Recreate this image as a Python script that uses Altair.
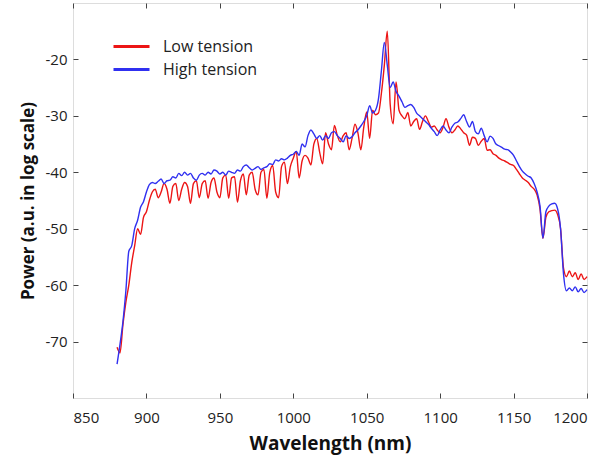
import altair as alt
import pandas as pd

wavelength = list(range(880, 1201, 2))

low_tension = [
    -71, -72, -67, -63, -60, -56, -53, -50, -51, -48,
    -47, -45, -43.5, -43, -44.5, -43.5, -42, -43, -45.5, -42.5,
    -42, -45, -43, -41.8, -42.5, -45.5, -42, -41.5, -44.5, -42,
    -41.5, -44.6, -41.8, -41, -43.5, -44.5, -41, -40.5, -44.6, -41,
    -40.8, -45.3, -41.5, -40.3, -44, -40.5, -40, -43, -44, -40,
    -39.5, -44.6, -40, -38.8, -43.5, -44.5, -39, -38.2, -42, -39,
    -37.5, -36.3, -41, -38, -37, -37.5, -38.7, -35, -34, -36.5,
    -38.5, -33, -35, -36, -31.7, -33.5, -34.6, -33.5, -33, -36,
    -34, -31.5, -33, -36, -32, -29.3, -34, -29, -29.8, -29.5,
    -26, -21, -15, -28, -31.4, -24, -29, -30, -30.5, -29.4,
    -31.8, -31, -30.5, -32.4, -31, -30, -31, -32, -31.8, -32.5,
    -33, -32, -30.5, -32, -33, -32.5, -31.8, -32.3, -33, -33.4,
    -35.2, -33.8, -34, -35.2, -34.5, -34, -36.1, -36, -36.7, -37,
    -37.5, -37.8, -38, -38.3, -38.6, -38.8, -39.5, -40.3, -41, -41.4,
    -41.8, -42.5, -43, -44, -46.5, -51.7, -48, -47, -46.8, -46.7,
    -47.5, -50, -57, -58.5, -57.5, -58.5, -57.8, -59, -58, -59,
    -58.5,
]

high_tension = [
    -74, -70.5, -66.5, -61, -54, -53, -50, -48.5, -46.2, -45.2,
    -43.5, -42.2, -41.8, -42, -41.6, -41.2, -42, -41.5, -41.4, -40.8,
    -41, -40.2, -40.6, -40, -40.5, -40.2, -41, -41.4, -40.5, -40.2,
    -40.5, -40, -40.3, -39.6, -39.8, -40.3, -40, -40.5, -39.8, -40,
    -40.2, -39.6, -39.8, -39, -38.7, -39.2, -39.6, -39.3, -39, -39.5,
    -39.2, -39, -38.5, -38.6, -37.8, -38, -37.6, -37.8, -37.5, -37,
    -36.8, -36.3, -37, -35, -35.5, -33.5, -32.5, -33.2, -34, -33.5,
    -34.3, -33.5, -34, -33, -32.8, -33.5, -34, -34.6, -33.5, -34,
    -33.7, -33, -32.5, -31.8, -31, -30, -28.2, -29.5, -29, -27,
    -22, -17, -21, -25, -24, -25.7, -26.5, -27.5, -28.5, -28.2,
    -28, -28.5, -29.5, -30, -30.5, -31, -31.5, -32.2, -32.8, -33.5,
    -32.5, -31.8, -32.5, -33, -32, -31.3, -31.1, -30.5, -29.8, -31,
    -32, -31, -32.8, -33.2, -32.2, -33.5, -34.6, -33.6, -34, -35,
    -35.3, -35.6, -35.9, -36, -36.4, -37, -38, -39, -39.8, -40.3,
    -40.7, -41, -42, -43.5, -46, -51.7, -47, -46, -45.6, -45.5,
    -46.5, -50, -58, -61, -60.5, -61, -60.3, -61.2, -60.6, -61.3,
    -60.8,
]

series_names = ["Low tension", "High tension"]
series_colors = ["#ec1515", "#3030f0"]
x_ticks = [850, 900, 950, 1000, 1050, 1100, 1150, 1200]
y_ticks = [-70, -60, -50, -40, -30, -20]

df_low = pd.DataFrame({"Wavelength": wavelength, "Power": low_tension, "Series": series_names[0]})
df_high = pd.DataFrame({"Wavelength": wavelength, "Power": high_tension, "Series": series_names[1]})

FONT = "Open Sans"
xs = alt.Scale(domain=[850, 1200], nice=False, zero=False)
ys = alt.Scale(domain=[-80, -10], nice=False, zero=False)

color = alt.Color(
    "Series:N",
    scale=alt.Scale(domain=series_names, range=series_colors),
    legend=alt.Legend(
        title=None, orient="none", legendX=48, legendY=33,
        symbolType="M-2,0H2", symbolSize=324, symbolStrokeWidth=3,
        labelFont=FONT, labelFontSize=16, labelColor="#222222",
        labelOffset=21, rowPadding=4,
    ),
)

common_axis = dict(domain=False, grid=False, tickSize=5, offset=-5, tickColor="#444444",
                   tickWidth=1, labelFont=FONT, labelFontSize=15, labelColor="#222222",
                   labelExpr="datum.value + ''")

red = alt.Chart(df_low).mark_line(strokeWidth=1.4, interpolate="monotone").encode(
    x=alt.X("Wavelength:Q", scale=xs, axis=alt.Axis(
        orient="bottom", values=x_ticks, title="Wavelength (nm)", titleFont=FONT,
        titleFontSize=19, titleFontWeight="bold", titleColor="#111111", titlePadding=9,
        labelPadding=12, **common_axis)),
    y=alt.Y("Power:Q", scale=ys, axis=alt.Axis(
        orient="left", values=y_ticks, title="Power (a.u. in log scale)", titleFont=FONT,
        titleFontSize=17, titleFontWeight="bold", titleColor="#111111", titlePadding=8,
        labelPadding=6, **common_axis)),
    color=color,
)

blue = alt.Chart(df_high).mark_line(strokeWidth=1.4, interpolate="monotone").encode(
    x=alt.X("Wavelength:Q", scale=xs, axis=alt.Axis(
        orient="top", values=x_ticks, title=None, labels=False, **common_axis)),
    y=alt.Y("Power:Q", scale=ys, axis=alt.Axis(
        orient="right", values=y_ticks, title=None, labels=False, **common_axis)),
    color=color,
)

chart = alt.layer(red, blue).resolve_axis(x="independent", y="independent").properties(
    width=514, height=395,
    padding={"left": 73, "top": 3, "right": 16, "bottom": 64},
    autosize=alt.AutoSizeParams(type="none"),
).configure_view(stroke="#333333", strokeWidth=1.5).configure(background="white")

chart.save("out.html", embed_options={"renderer": "svg", "actions": False})
